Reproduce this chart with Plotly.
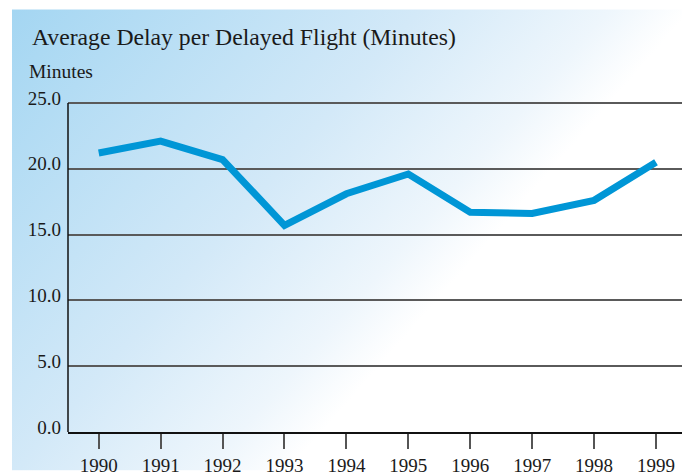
import base64
import plotly.graph_objects as go

years = [1990, 1991, 1992, 1993, 1994, 1995, 1996, 1997, 1998, 1999]
avg_delay = [21.2, 22.1, 20.7, 15.7, 18.1, 19.6, 16.7, 16.6, 17.6, 20.5]
y_ticks = [0, 5, 10, 15, 20, 25]
y_tick_labels = ["0.0", "5.0", "10.0", "15.0", "20.0", "25.0"]

W, H = 682, 476
ML, MR, MT, MB = 68, 0, 99, 39
pw, ph = W - ML - MR, H - MT - MB

# background gradient panel (pixel coords 12..682, 8..476)
bx0, by0 = 12, 8
bw, bh = W - bx0, H - by0
svg = f'''<svg xmlns="http://www.w3.org/2000/svg" width="{bw}" height="{bh}" viewBox="0 0 {bw} {bh}" preserveAspectRatio="none">
<defs><linearGradient id="g" gradientUnits="userSpaceOnUse" x1="0" y1="0" x2="390" y2="336">
<stop offset="0" stop-color="#a4d6f2"/><stop offset="0.6" stop-color="#d3e9f8"/><stop offset="0.88" stop-color="#eef6fc"/><stop offset="1" stop-color="#ffffff"/>
</linearGradient></defs><rect x="0" y="0" width="{bw}" height="{bh}" fill="url(#g)"/></svg>'''
src = "data:image/svg+xml;base64," + base64.b64encode(svg.encode()).decode()

fig = go.Figure()
fig.add_trace(go.Scatter(
    x=years, y=avg_delay, mode="lines",
    line=dict(color="#0096d6", width=7), hoverinfo="x+y", showlegend=False,
))

font_family = "Liberation Serif, Times New Roman, serif"
fig.update_layout(
    width=W, height=H,
    margin=dict(l=ML, r=MR, t=MT, b=MB, pad=0),
    paper_bgcolor="white", plot_bgcolor="rgba(0,0,0,0)",
    font=dict(family=font_family, color="#1a1a1a", size=19),
    images=[dict(
        source=src, xref="paper", yref="paper",
        x=(bx0 - ML) / pw, y=1 + (MT - by0) / ph,
        sizex=bw / pw, sizey=bh / ph,
        xanchor="left", yanchor="top", sizing="stretch", layer="below",
    )],
    xaxis=dict(
        range=[1989.504, 1999.42], tickvals=years, ticktext=[str(y) for y in years],
        showgrid=False, zeroline=False, showline=True, linecolor="#111", linewidth=1.5,
        ticks="outside", ticklen=15, tickwidth=1.5, tickcolor="#555",
        tickfont=dict(size=19, family=font_family, color="#1a1a1a"),
        fixedrange=True,
    ),
    yaxis=dict(
        range=[0, 25.3], tickvals=y_ticks, ticktext=y_tick_labels,
        showgrid=True, gridcolor="#5a5a5a", gridwidth=1.5,
        zeroline=False, showline=False,
        ticks="", ticklabelstandoff=6, ticklabelshift=-5,
        tickfont=dict(size=19, family=font_family, color="#1a1a1a"),
        fixedrange=True,
    ),
    shapes=[dict(type="line", xref="paper", yref="y", x0=0, x1=0, y0=0, y1=25,
                 line=dict(color="#111", width=1.5))],
    annotations=[
        dict(text="Average Delay per Delayed Flight (Minutes)", xref="paper", yref="paper",
             x=(30 - ML) / pw, y=1 + (MT - 36) / ph, xanchor="left", yanchor="middle",
             showarrow=False, font=dict(size=23.7, family=font_family, color="#1a1a1a")),
        dict(text="Minutes", xref="paper", yref="paper",
             x=(27 - ML) / pw, y=1 + (MT - 71) / ph, xanchor="left", yanchor="middle",
             showarrow=False, font=dict(size=19.5, family=font_family, color="#1a1a1a")),
    ],
)

fig.write_html("out.html", config={"displayModeBar": False},
               post_script="document.body.style.margin='0';document.body.style.overflow='hidden';")
